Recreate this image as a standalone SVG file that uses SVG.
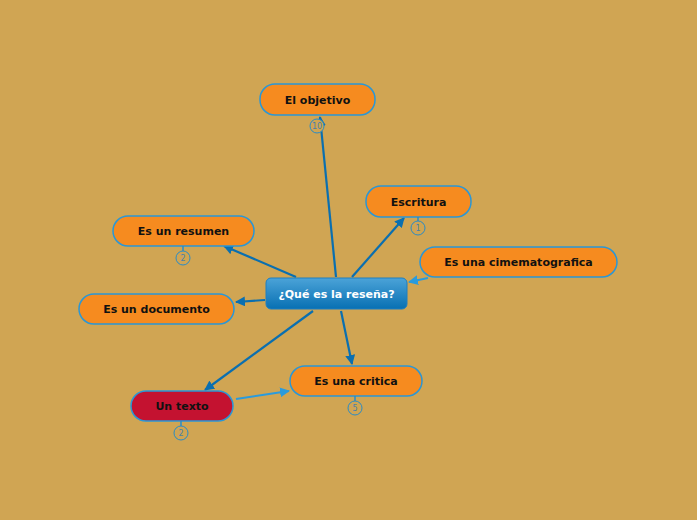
<svg xmlns="http://www.w3.org/2000/svg" width="697" height="520" viewBox="0 0 697 520">
<defs>
<linearGradient id="cg" x1="0" y1="0" x2="0" y2="1">
<stop offset="0" stop-color="#4BA3D8"/>
<stop offset="1" stop-color="#0870B3"/>
</linearGradient>
<marker id="ad" viewBox="0 0 10 10" refX="9" refY="5" markerWidth="10" markerHeight="10" markerUnits="userSpaceOnUse" orient="auto">
<path d="M0,0 L10,5 L0,10 z" fill="#0A6FB0"/>
</marker>
<marker id="al" viewBox="0 0 10 10" refX="9" refY="5" markerWidth="10" markerHeight="10" markerUnits="userSpaceOnUse" orient="auto">
<path d="M0,0 L10,5 L0,10 z" fill="#2A9BDD"/>
</marker>
<style>
.n rect{fill:#F68B1F;stroke:#2A97D6;stroke-width:1.5}
.n text,.c text{font-family:"DejaVu Sans",Verdana,sans-serif;font-size:11px;font-weight:bold;text-anchor:middle;fill:#111}
.c text{fill:#fff}
.d{stroke:#0A6FB0;stroke-width:2.2;fill:none}
.l{stroke:#2A9BDD;stroke-width:2;fill:none}
.b circle{fill:#D0A553;stroke:#2A8CC6;stroke-width:1}
.b line{stroke:#2A8CC6;stroke-width:1.5}
.b text{font-family:"DejaVu Sans",sans-serif;font-size:8px;fill:#4A7FA8;text-anchor:middle}
</style>
</defs>
<rect width="697" height="520" fill="#D0A553"/>
<g id="connectors">
<line class="d" x1="336" y1="277" x2="320" y2="117" marker-end="url(#ad)"/>
<line class="d" x1="352" y1="277" x2="404" y2="218" marker-end="url(#ad)"/>
<line class="d" x1="296" y1="277" x2="224" y2="246" marker-end="url(#ad)"/>
<line class="d" x1="265" y1="300" x2="236" y2="302" marker-end="url(#ad)"/>
<line class="d" x1="313" y1="311" x2="205" y2="390" marker-end="url(#ad)"/>
<line class="d" x1="341" y1="311" x2="352" y2="364" marker-end="url(#ad)"/>
<line class="l" x1="428" y1="278" x2="409" y2="282" marker-end="url(#al)"/>
<line class="l" x1="236" y1="399" x2="289" y2="391" marker-end="url(#al)"/>
</g>
<g id="center" class="c">
<rect x="266" y="278" width="141" height="31" rx="5" fill="url(#cg)" stroke="#1E7FC0" stroke-width="1"/>
<text x="336.5" y="298">¿Qué es la reseña?</text>
</g>
<g id="objetivo" class="n">
<rect x="260" y="84" width="115" height="31" rx="15"/>
<text x="317.5" y="104">El objetivo</text>
</g>
<g id="objetivo-badge" class="b">
<circle cx="317" cy="126" r="7"/>
<text x="317" y="129">10</text>
</g>
<g id="escritura" class="n">
<rect x="366" y="186" width="105" height="31" rx="15"/>
<text x="418.5" y="206">Escritura</text>
</g>
<g id="escritura-badge" class="b">
<line x1="418" y1="217" x2="418" y2="221"/>
<circle cx="418" cy="228" r="7"/>
<text x="418" y="231">1</text>
</g>
<g id="cimematografica" class="n">
<rect x="420" y="247" width="197" height="30" rx="15"/>
<text x="518.5" y="266">Es una cimematografica</text>
</g>
<g id="resumen" class="n">
<rect x="113" y="216" width="141" height="30" rx="15"/>
<text x="183.5" y="235">Es un resumen</text>
</g>
<g id="resumen-badge" class="b">
<line x1="183" y1="246" x2="183" y2="251"/>
<circle cx="183" cy="258" r="7"/>
<text x="183" y="261">2</text>
</g>
<g id="documento" class="n">
<rect x="79" y="294" width="155" height="30" rx="15"/>
<text x="156.5" y="313">Es un documento</text>
</g>
<g id="critica" class="n">
<rect x="290" y="366" width="132" height="30" rx="15"/>
<text x="356" y="385">Es una critica</text>
</g>
<g id="critica-badge" class="b">
<line x1="355" y1="396" x2="355" y2="401"/>
<circle cx="355" cy="408" r="7"/>
<text x="355" y="411">5</text>
</g>
<g id="texto" class="n">
<rect x="131" y="391" width="102" height="30" rx="15" style="fill:#C41230"/>
<text x="182" y="410">Un texto</text>
</g>
<g id="texto-badge" class="b">
<line x1="181" y1="421" x2="181" y2="426"/>
<circle cx="181" cy="433" r="7"/>
<text x="181" y="436">2</text>
</g>
</svg>
